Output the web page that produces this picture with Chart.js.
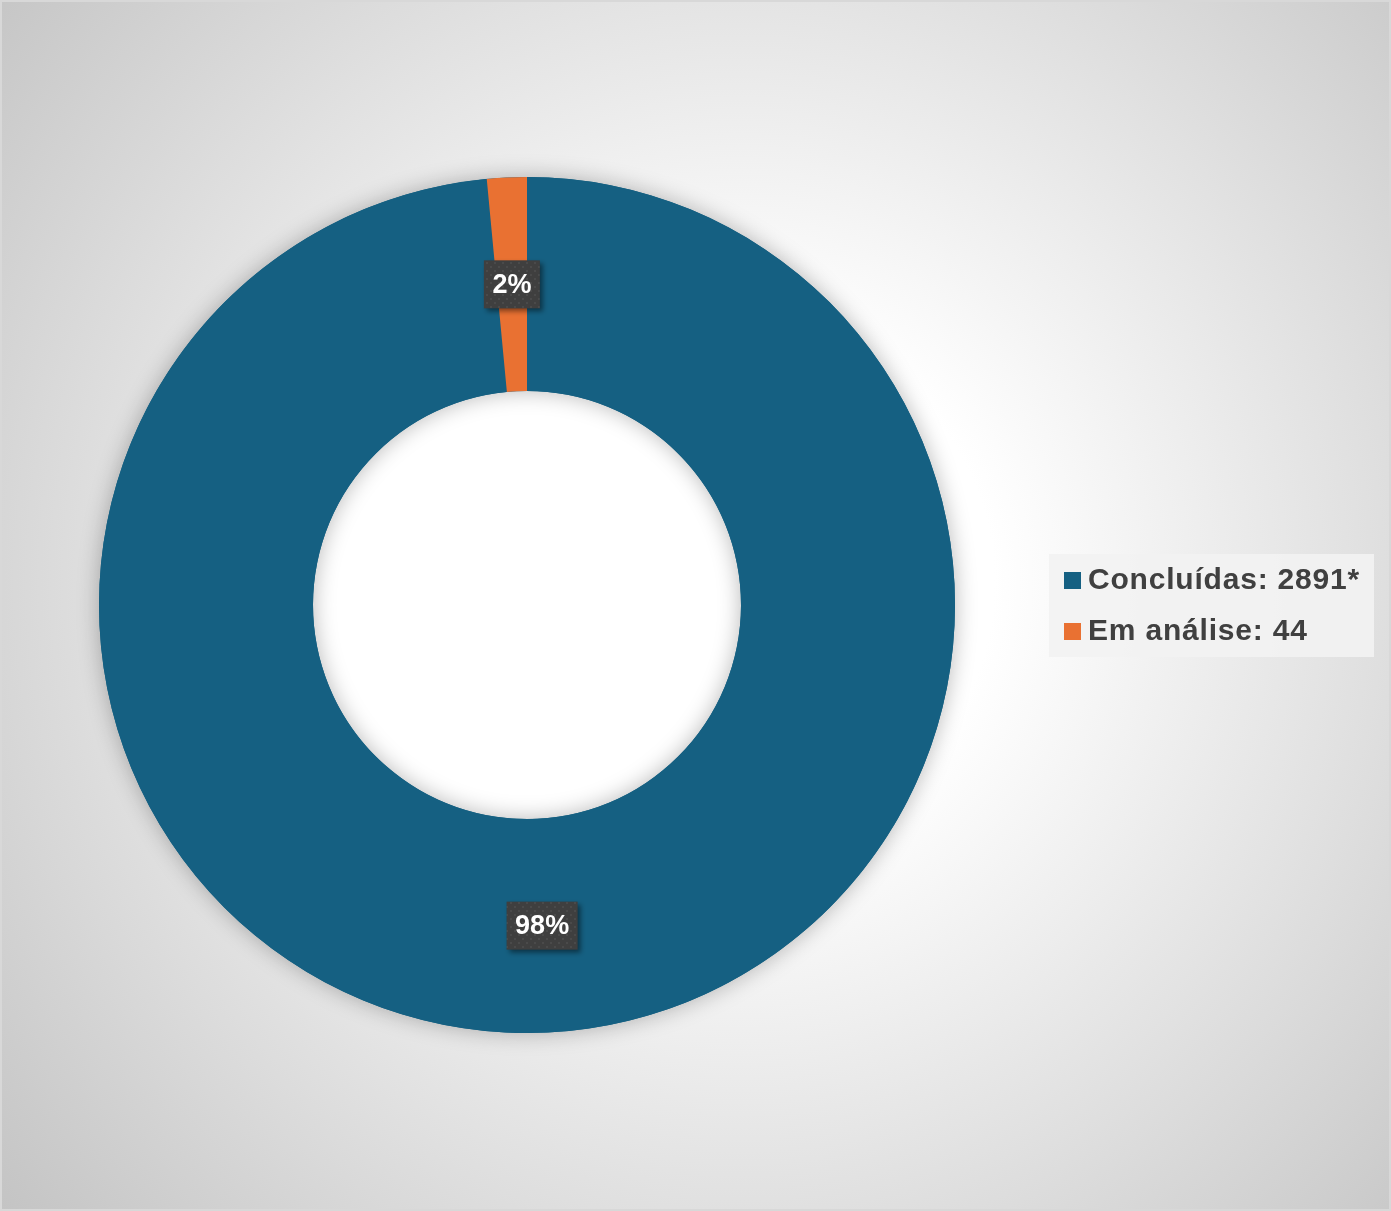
<!DOCTYPE html>
<html>
<head>
<meta charset="utf-8">
<script src="https://cdn.jsdelivr.net/npm/chart.js@4"></script>
<style>
    html, body { margin: 0; padding: 0; }
    #frame {
        position: relative;
        width: 1391px;
        height: 1211px;
        box-sizing: border-box;
        border: 2px solid #d8d8d8;
        background: radial-gradient(circle farthest-corner at 740px 580px, #ffffff 0%, #ffffff 26%, #c4c4c4 100%);
    }
    #status-chart { position: absolute; left: -2px; top: -2px; }
</style>
</head>
<body>
<div id="frame">
    <canvas id="status-chart" width="1391" height="1211"></canvas>
</div>
<script>
// Chart data
var categories = ['Concluídas: 2891*', 'Em análise: 44'];
var counts = [2891, 44];
var percentLabels = ['98%', '2%'];
var sliceColors = ['#156082', '#E97132'];

var FONT = '"Liberation Sans", Arial, sans-serif';

// Small dotted fill used behind the data labels
function makeLabelPattern(ctx) {
    var p = document.createElement('canvas');
    p.width = 8;
    p.height = 8;
    var pc = p.getContext('2d');
    pc.fillStyle = '#3f3f3f';
    pc.fillRect(0, 0, 8, 8);
    pc.fillStyle = '#4a4a4a';
    pc.fillRect(2, 2, 2, 2);
    pc.fillRect(6, 6, 2, 2);
    return ctx.createPattern(p, 'repeat');
}

// White hole + soft shadow behind the whole ring (also falls into the hole)
var ringShadow = {
    id: 'ringShadow',
    beforeDatasetsDraw: function(chart) {
        var arc = chart.getDatasetMeta(0).data[0];
        if (!arc) return;
        var ctx = chart.ctx;
        ctx.save();
        ctx.fillStyle = '#ffffff';
        ctx.beginPath();
        ctx.arc(arc.x, arc.y, arc.innerRadius + 1, 0, Math.PI * 2);
        ctx.fill();

        ctx.shadowColor = 'rgba(0, 0, 0, 0.28)';
        ctx.shadowBlur = 22;
        ctx.beginPath();
        ctx.arc(arc.x, arc.y, arc.outerRadius, 0, Math.PI * 2);
        ctx.arc(arc.x, arc.y, arc.innerRadius, Math.PI * 2, 0, true);
        ctx.closePath();
        ctx.fillStyle = sliceColors[0];
        ctx.fill('evenodd');
        ctx.restore();
    }
};

// Percent labels in dark boxes at the middle of each slice
var sliceLabels = {
    id: 'sliceLabels',
    afterDatasetsDraw: function(chart) {
        var ctx = chart.ctx;
        var pattern = makeLabelPattern(ctx);
        chart.getDatasetMeta(0).data.forEach(function(arc, i) {
            var pt = arc.tooltipPosition();
            ctx.save();
            ctx.font = 'bold 27px ' + FONT;
            var w = ctx.measureText(percentLabels[i]).width + 17;
            var h = 48;
            ctx.shadowColor = 'rgba(0, 0, 0, 0.45)';
            ctx.shadowBlur = 5;
            ctx.shadowOffsetX = 3;
            ctx.shadowOffsetY = 3;
            ctx.fillStyle = pattern;
            ctx.fillRect(pt.x - w / 2, pt.y - h / 2, w, h);
            ctx.shadowColor = 'transparent';
            ctx.fillStyle = '#ffffff';
            ctx.textAlign = 'center';
            ctx.textBaseline = 'middle';
            ctx.fillText(percentLabels[i], pt.x, pt.y + 1);
            ctx.restore();
        });
    }
};

// Legend box on the right side
var sideLegend = {
    id: 'sideLegend',
    afterDraw: function(chart) {
        var ctx = chart.ctx;
        var left = 1049, top = 554, width = 325, height = 103;
        ctx.save();
        ctx.fillStyle = 'rgba(242, 242, 242, 0.92)';
        ctx.fillRect(left, top, width, height);
        ctx.font = 'bold 30px ' + FONT;
        ctx.letterSpacing = '0.8px';
        ctx.textBaseline = 'middle';
        categories.forEach(function(label, i) {
            var cy = top + 26 + i * 51;
            ctx.fillStyle = sliceColors[i];
            ctx.fillRect(left + 15, cy - 8, 17, 17);
            ctx.fillStyle = '#404040';
            ctx.fillText(label, left + 39, cy + 1);
        });
        ctx.restore();
    }
};

var ctxStatus = document.getElementById('status-chart').getContext('2d');
var statusChart = new Chart(ctxStatus, {
    type: 'doughnut',
    data: {
        labels: categories,
        datasets: [{
            data: counts,
            backgroundColor: sliceColors,
            borderWidth: 0
        }]
    },
    options: {
        responsive: false,
        animation: false,
        cutout: '50%',
        layout: {
            padding: { left: 99, right: 436, top: 177, bottom: 178 }
        },
        plugins: {
            legend: { display: false },
            tooltip: { enabled: false }
        },
        events: []
    },
    plugins: [ringShadow, sliceLabels, sideLegend]
});
</script>
</body>
</html>
